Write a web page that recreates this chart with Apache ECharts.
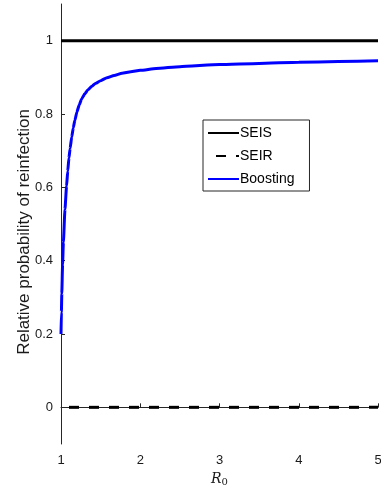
<!DOCTYPE html>
<html>
<head>
<meta charset="utf-8">
<script src="https://cdn.jsdelivr.net/npm/echarts@6/dist/echarts.min.js"></script>
<style>
html,body{margin:0;padding:0;background:#fff;}
#chart{width:381px;height:488px;}
</style>
</head>
<body>
<div id="chart"></div>
<script>
// ---- data ----
const seriesNames = ['SEIS', 'SEIR', 'Boosting'];
const r0Range = [1, 5];
const seisValues = [1, 1];
const seirValues = [0, 0];
const r0Boost = [1.0, 1.005, 1.01, 1.02, 1.03, 1.05, 1.07, 1.085, 1.1, 1.115, 1.135, 1.155, 1.175, 1.2, 1.23, 1.26, 1.3, 1.34, 1.39, 1.44, 1.5, 1.58, 1.67, 1.77, 1.88, 2.0, 2.2, 2.5, 3.0, 3.5, 4.0, 4.5, 5.0];
const boostValues = [0.2, 0.26, 0.31, 0.39, 0.45, 0.54, 0.603, 0.644, 0.68, 0.706, 0.737, 0.762, 0.783, 0.805, 0.825, 0.841, 0.855, 0.866, 0.876, 0.884, 0.891, 0.899, 0.905, 0.911, 0.915, 0.919, 0.924, 0.929, 0.935, 0.938, 0.941, 0.943, 0.945];
const xTicks = [1, 2, 3, 4, 5];
const yTickLabels = ['0', '0.2', '0.4', '0.6', '0.8', '1'];

const zip = (xs, ys) => xs.map((x, i) => [x, ys[i]]);
const axisColor = '#262626';

const chart = echarts.init(document.getElementById('chart'), null, {renderer: 'canvas'});
chart.setOption({
  animation: false,
  backgroundColor: '#fff',
  grid: {left: 61, right: 3, top: 4, bottom: 44, containLabel: false, outerBoundsMode: 'none'},
  xAxis: {
    type: 'value', min: xTicks[0], max: xTicks[xTicks.length - 1], interval: 1,
    axisLine: {show: true, lineStyle: {color: axisColor, width: 1}},
    axisTick: {show: true, inside: true, length: 4, lineStyle: {color: axisColor}},
    axisLabel: {color: '#1a1a1a', fontSize: 13, fontFamily: 'Liberation Sans, Arial, sans-serif', margin: 10},
    splitLine: {show: false},
    name: '{i|R}{s|0}',
    nameLocation: 'middle',
    nameGap: 27,
    nameMoveOverlap: false,
    nameTextStyle: {
      rich: {
        i: {fontFamily: 'DejaVu Serif, serif', fontStyle: 'italic', fontSize: 14, color: '#1a1a1a'},
        s: {fontFamily: 'DejaVu Serif, serif', fontSize: 10, color: '#1a1a1a', verticalAlign: 'bottom', padding: [6, 0, 0, 0]}
      }
    }
  },
  yAxis: {
    type: 'value', min: -0.1, max: 1.1,
    axisLine: {show: true, lineStyle: {color: axisColor, width: 1}},
    axisTick: {show: true, inside: true, length: 4, lineStyle: {color: axisColor}},
    axisLabel: {
      color: '#1a1a1a', fontSize: 13, fontFamily: 'Liberation Sans, Arial, sans-serif', margin: 8,
      showMinLabel: false, showMaxLabel: false,
      formatter: function (v) {
        const k = Math.round(v * 5);
        if (Math.abs(v * 5 - k) > 1e-6 || k < 0 || k >= yTickLabels.length) return '';
        return yTickLabels[k];
      }
    },
    splitLine: {show: false},
    name: 'Relative probability of reinfection',
    nameLocation: 'middle',
    nameGap: 28,
    nameMoveOverlap: false,
    nameTextStyle: {fontSize: 17, color: '#1a1a1a', fontFamily: 'Liberation Sans, Arial, sans-serif', padding: [0, 16, 0, 0]}
  },
  legend: {
    orient: 'vertical',
    left: 203, top: 120,
    padding: [6, 15, 5, 4],
    itemWidth: 31, itemHeight: 14, itemGap: 9,
    backgroundColor: '#fff',
    borderColor: axisColor, borderWidth: 1,
    itemStyle: {opacity: 0},
    textStyle: {fontSize: 14, color: '#000', fontFamily: 'Liberation Sans, Arial, sans-serif', padding: [0, 0, 0, -4]},
    data: seriesNames
  },
  series: [
    {name: seriesNames[0], type: 'line', showSymbol: false, symbol: 'none',
     data: zip(r0Range, seisValues), lineStyle: {color: '#000', width: 3}, itemStyle: {color: '#000'}},
    {name: seriesNames[1], type: 'line', showSymbol: false, symbol: 'none',
     data: zip(r0Range, seirValues), lineStyle: {color: '#000', width: 3, type: [10, 10], dashOffset: 12}, itemStyle: {color: '#000'}},
    {name: seriesNames[2], type: 'line', showSymbol: false, symbol: 'none', smooth: 0.15, smoothMonotone: 'x',
     data: zip(r0Boost, boostValues), lineStyle: {color: '#0000ff', width: 3}, itemStyle: {color: '#0000ff'}}
  ]
});
</script>
</body>
</html>
